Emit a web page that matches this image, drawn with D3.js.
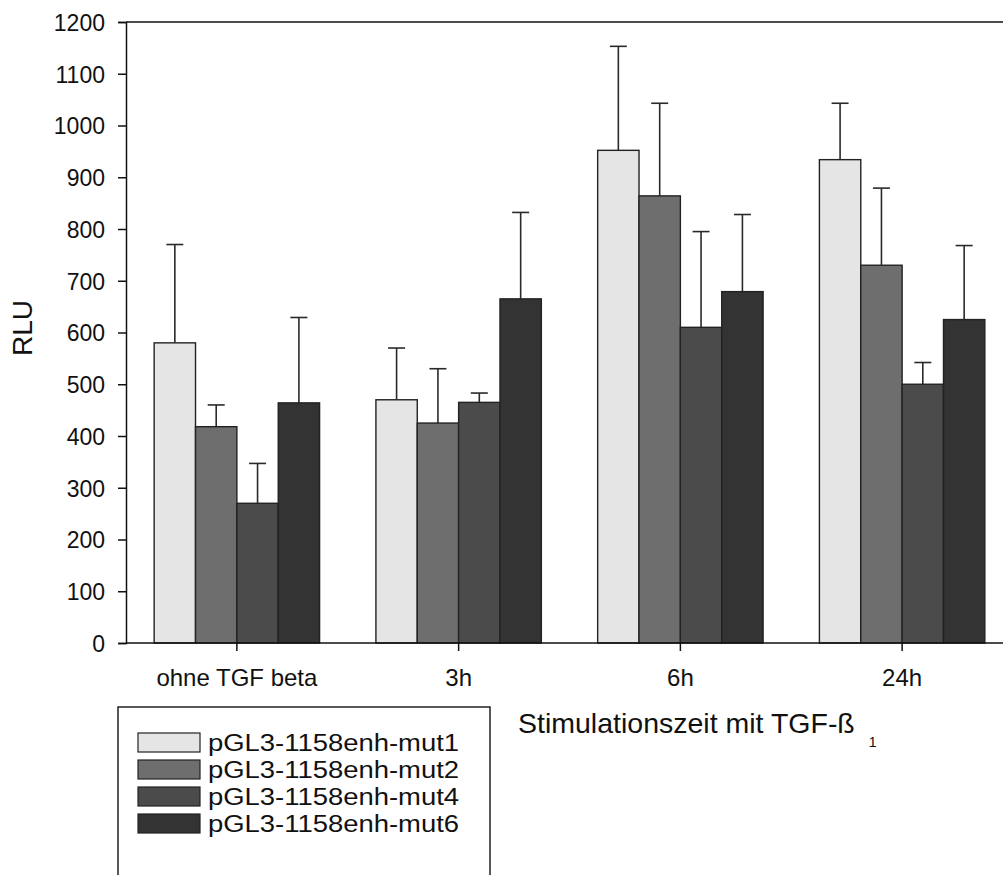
<!DOCTYPE html>
<html>
<head>
<meta charset="utf-8">
<script src="https://cdn.jsdelivr.net/npm/d3@7"></script>
<style>
  html,body{margin:0;padding:0;background:#fff;}
  svg{display:block;}
  text{font-family:"Liberation Sans",Arial,sans-serif;fill:#111;}
</style>
</head>
<body>
<div id="chart"></div>
<script>
// RLU per stimulation time, four enhancer mutants, mean + upper SD bar
const groups=["ohne TGF beta","3h","6h","24h"];
const series=["pGL3-1158enh-mut1","pGL3-1158enh-mut2","pGL3-1158enh-mut4","pGL3-1158enh-mut6"];
const colors=["#e5e5e5","#6e6e6e","#4b4b4b","#333333"];
const means=[
  [580,470,952,934],
  [418,425,864,730],
  [270,465,610,500],
  [464,665,679,625]
];
const errs=[
  [190,100,201,109],
  [42,105,179,149],
  [77,18,185,42],
  [165,167,149,143]
];
const yTicks=[0,100,200,300,400,500,600,700,800,900,1000,1100,1200];

const W=1003,H=875;
const x0=126,x1=1013,yTop=22,yBot=643;

const svg=d3.select("#chart").append("svg").attr("width",W).attr("height",H);

const x=d3.scaleBand().domain(groups).range([x0,x1]).paddingInner(0.254).paddingOuter(0.127);
const xs=d3.scaleBand().domain(series).range([0,x.bandwidth()]);
const y=d3.scaleLinear().domain([0,1200]).range([yBot,yTop]);

const rows=[];
series.forEach((s,si)=>groups.forEach((g,gi)=>rows.push({s,si,g,m:means[si][gi],e:errs[si][gi]})));

// error bars (drawn under bars so only the upper half shows)
const eb=svg.append("g").attr("stroke","#2a2a2a").attr("stroke-width",1.6);
eb.selectAll("line.v").data(rows).join("line").attr("class","v")
  .attr("x1",d=>x(d.g)+xs(d.s)+xs.bandwidth()/2).attr("x2",d=>x(d.g)+xs(d.s)+xs.bandwidth()/2)
  .attr("y1",d=>y(d.m)).attr("y2",d=>y(d.m+d.e));
eb.selectAll("line.c").data(rows).join("line").attr("class","c")
  .attr("x1",d=>x(d.g)+xs(d.s)+xs.bandwidth()/2-8.5).attr("x2",d=>x(d.g)+xs(d.s)+xs.bandwidth()/2+8.5)
  .attr("y1",d=>y(d.m+d.e)).attr("y2",d=>y(d.m+d.e));

// bars
svg.append("g").selectAll("rect").data(rows).join("rect")
  .attr("x",d=>x(d.g)+xs(d.s)).attr("width",xs.bandwidth())
  .attr("y",d=>y(d.m)).attr("height",d=>yBot-y(d.m))
  .attr("fill",d=>colors[d.si]).attr("stroke","#222").attr("stroke-width",1.4);

// frame
svg.append("line").attr("x1",x0).attr("x2",W).attr("y1",yTop).attr("y2",yTop).attr("stroke","#111").attr("stroke-width",1.5);
svg.append("line").attr("x1",x0).attr("x2",W).attr("y1",yBot).attr("y2",yBot).attr("stroke","#111").attr("stroke-width",1.5);

// y axis
const ya=svg.append("g").attr("transform",`translate(${x0},0)`)
  .call(d3.axisLeft(y).tickValues(yTicks).tickSize(8).tickPadding(13).tickFormat(d3.format("d")));
ya.select(".domain").attr("stroke","#111").attr("stroke-width",1.5);
ya.selectAll(".tick line").attr("stroke","#111").attr("stroke-width",1.5);
ya.selectAll(".tick text").style("font-size","23px").attr("fill","#111").attr("dy","0.36em");

// x axis
const xa=svg.append("g").attr("transform",`translate(0,${yBot})`)
  .call(d3.axisBottom(x).tickSize(8).tickPadding(18));
xa.select(".domain").remove();
xa.selectAll(".tick line").attr("stroke","#111").attr("stroke-width",1.5);
xa.selectAll(".tick text").style("font-size","24px").attr("fill","#111");

// axis titles
svg.append("text").attr("transform","translate(32,328) rotate(-90)")
  .attr("text-anchor","middle").style("font-size","28px").text("RLU");
const xt=svg.append("text").attr("x",518).attr("y",733).style("font-size","28.5px");
xt.append("tspan").text("Stimulationszeit mit TGF-ß");
xt.append("tspan").attr("dx",14).attr("dy",14).style("font-size","14px").text("1");

// legend -- text a bit wider than tall in the original, so stretch it horizontally
const lg=svg.append("g");
lg.append("rect").attr("x",118).attr("y",707).attr("width",372).attr("height",200)
  .attr("fill","#fff").attr("stroke","#222").attr("stroke-width",1.5);
const li=lg.selectAll("g.li").data(series).join("g").attr("class","li")
  .attr("transform",(d,i)=>`translate(138,${733+i*27})`);
li.append("rect").attr("width",62).attr("height",19)
  .attr("fill",(d,i)=>colors[i]).attr("stroke","#222").attr("stroke-width",1.2);
li.append("text").attr("transform","translate(70,18) scale(1.12,1)")
  .style("font-size","24.5px").text(d=>d);
</script>
</body>
</html>
